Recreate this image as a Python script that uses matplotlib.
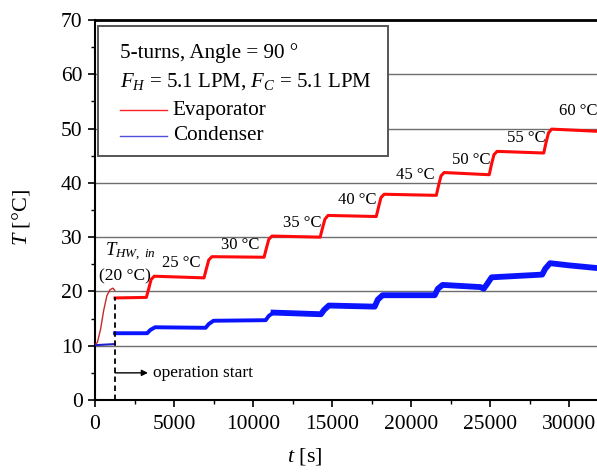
import matplotlib
matplotlib.use("Agg")
import matplotlib.pyplot as plt
from matplotlib.patches import Rectangle
from matplotlib.lines import Line2D
from matplotlib.ticker import MultipleLocator

plt.rcParams['font.family'] = ['Liberation Serif', 'DejaVu Serif']
plt.rcParams['mathtext.fontset'] = 'custom'
plt.rcParams['mathtext.rm'] = 'Liberation Serif'
plt.rcParams['mathtext.it'] = 'Liberation Serif:italic'

# ---- data ----
evap_pre_t = [0, 150, 350, 550, 750, 950, 1130, 1250]
evap_pre_T = [10.2, 10.6, 13.0, 16.5, 19.2, 20.3, 20.6, 20.2]

evap_t = [1270, 3250, 3400, 3550, 3750, 6900, 7050, 7200, 7400, 10700, 10850, 11000, 11200,
          14250, 14400, 14550, 14750, 17800, 17950, 18100, 18300, 21600, 21750, 21900, 22100,
          24950, 25100, 25250, 25450, 28400, 28550, 28700, 28900, 31800]
evap_T = [18.8, 18.9, 20.5, 22.2, 22.8, 22.5, 24.2, 25.8, 26.4, 26.3, 28.0, 29.6, 30.2,
          30.0, 31.7, 33.3, 34.0, 33.8, 35.6, 37.3, 37.9, 37.7, 39.6, 41.3, 41.9,
          41.5, 43.5, 45.2, 45.8, 45.5, 47.5, 49.2, 49.9, 49.5]

cond_pre_t = [0, 1250]
cond_pre_T = [10.1, 10.3]

cond_t = [1270, 3300, 3500, 3800, 7000, 7200, 7500, 10800, 11000, 11300, 14300, 14500, 14800,
          17700, 17900, 18200, 21500, 21700, 22000, 24400, 24600, 24800, 25100, 28300, 28500,
          28800, 30000, 31800]
cond_T = [12.3, 12.3, 12.9, 13.4, 13.3, 14.0, 14.6, 14.7, 15.5, 16.1, 15.8, 16.6, 17.4,
          17.2, 18.5, 19.3, 19.3, 20.5, 21.2, 20.8, 20.5, 21.3, 22.6, 23.1, 24.2,
          25.2, 24.8, 24.3]

step_labels = ["25 °C", "30 °C", "35 °C", "40 °C", "45 °C", "50 °C", "55 °C", "60 °C"]
label_t = [5450, 9180, 13100, 16580, 20250, 23800, 27280, 30570]
label_T = [25.3, 28.6, 32.6, 36.8, 41.4, 44.2, 48.2, 53.3]

op_start = 1270

fig = plt.figure(figsize=(5.97, 4.72), dpi=100)
ax = fig.add_axes([95/597, 72/472, 502/597, 380/472])

ax.set_xlim(0, 31770)
ax.set_ylim(0, 70)

for y in range(10, 70, 10):
    ax.axhline(y, color='#6e6e6e', lw=1.0, zorder=1)

ax.plot(evap_pre_t, evap_pre_T, color='#c82828', lw=1.0, zorder=3)
ax.plot(cond_pre_t, cond_pre_T, color='#2020c8', lw=1.5, zorder=3)
ax.plot(cond_t[:10], cond_T[:10], color='#0a14ff', lw=2.8, zorder=3, solid_joinstyle='round')
ax.plot(cond_t[9:], cond_T[9:], color='#0a14ff', lw=4.2, zorder=3, solid_joinstyle='round')
ax.plot(evap_t, evap_T, color='#ff0a0a', lw=2.2, zorder=4, solid_joinstyle='round')

# operation start
ax.plot([op_start, op_start], [0, 19.0], color='black', lw=1.3, ls=(0, (3, 2)), zorder=5)
ax.annotate('', xy=(3350, 5.0), xytext=(op_start, 5.0),
            arrowprops=dict(arrowstyle='-|>', color='black', lw=1.0,
                            mutation_scale=9, shrinkA=0, shrinkB=0))
ax.text(3650, 5.0, 'operation start', fontsize=12.5, va='center', ha='left')

ax.text(650, 27.3, r'$T_{HW,\ in}$', fontsize=13.5, va='center', ha='left')
ax.text(1870, 22.7, '(20 °C)', fontsize=12.5, va='center', ha='center')
for s, x, y in zip(step_labels, label_t, label_T):
    ax.text(x, y, s, fontsize=12, va='center', ha='center')

# legend box
ax.add_patch(Rectangle((0.006, 0.642), 0.578, 0.342, transform=ax.transAxes,
                       facecolor='white', edgecolor='#555555', lw=1.4, zorder=6))
ax.text(0.05, 0.913, '5-turns, Angle = 90 °', transform=ax.transAxes,
        fontsize=15.2, va='center', ha='left', zorder=7)
ax.text(0.05, 0.838, r'$F_{H}$ = 5.1 LPM, $F_{C}$ = 5.1 LPM', transform=ax.transAxes,
        fontsize=15, va='center', ha='left', zorder=7)
ax.add_line(Line2D([0.05, 0.143], [0.763, 0.763], transform=ax.transAxes,
                   color='#ff2020', lw=1.0, zorder=7))
ax.text(0.155, 0.763, 'Evaporator', transform=ax.transAxes,
        fontsize=15.2, va='center', ha='left', zorder=7)
ax.add_line(Line2D([0.05, 0.143], [0.695, 0.695], transform=ax.transAxes,
                   color='#5050e0', lw=1.0, zorder=7))
ax.text(0.155, 0.695, 'Condenser', transform=ax.transAxes,
        fontsize=15.2, va='center', ha='left', zorder=7)

# axes styling
ax.spines['right'].set_visible(False)
ax.spines['top'].set_linewidth(2.0)
ax.spines['left'].set_linewidth(1.5)
ax.spines['bottom'].set_linewidth(1.5)
ax.xaxis.set_major_locator(MultipleLocator(5000))
ax.xaxis.set_minor_locator(MultipleLocator(2500))
ax.yaxis.set_major_locator(MultipleLocator(10))
ax.yaxis.set_minor_locator(MultipleLocator(5))
ax.tick_params(axis='both', which='major', direction='out', length=5, width=1.2,
               labelsize=15.5, pad=4)
ax.tick_params(axis='x', which='major', pad=6)
ax.tick_params(axis='both', which='minor', direction='out', length=3, width=1.0)
ax.tick_params(axis='x', which='both', top=False)

ax.set_ylabel(r'$T$ [°C]', fontsize=16)
ax.yaxis.set_label_coords(-0.125, 0.48)
ax.set_xlabel(r'$t$ [s]', fontsize=16)
ax.xaxis.set_label_coords(0.418, -0.12)

fig.savefig('out.png', dpi=100)
